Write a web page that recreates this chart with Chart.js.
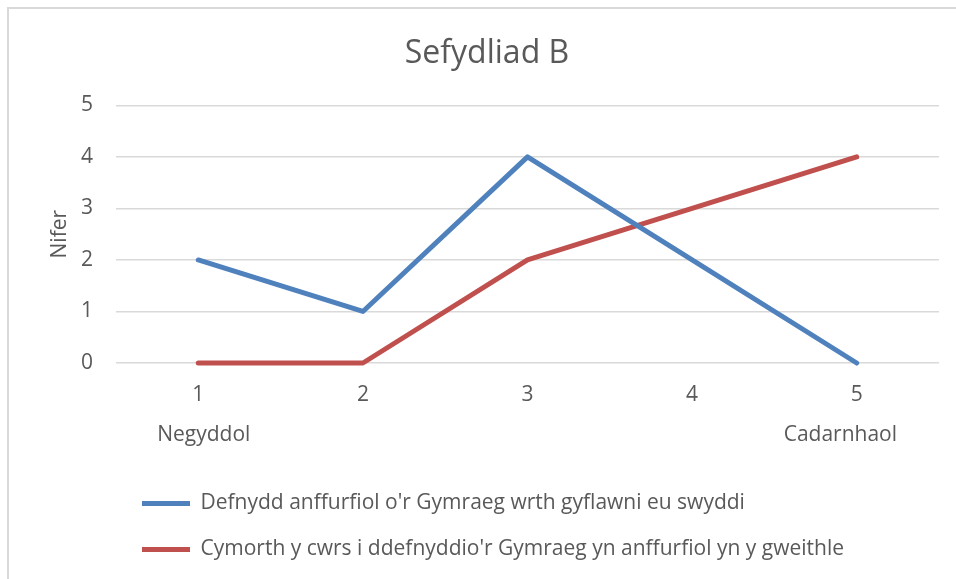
<!DOCTYPE html>
<html>
<head>
<meta charset="utf-8">
<script src="https://cdn.jsdelivr.net/npm/chart.js@4/dist/chart.umd.min.js"></script>
<style>
  html, body { margin: 0; padding: 0; background: #fff; overflow: hidden; }
  #wrap {
    position: absolute; left: 7px; top: 7px;
    width: 960px; height: 600px;
    border-left: 2px solid #d9d9d9; border-top: 2px solid #d9d9d9;
  }
</style>
</head>
<body>
<div id="wrap"><canvas id="myChart" width="960" height="561"></canvas></div>
<script>
const categories = ['1', '2', '3', '4', '5'];
const subLabels = ['  Negyddol', '', '', '', 'Cadarnhaol      '];
const yTicks = [0, 1, 2, 3, 4, 5];

const seriesNames = [
  "Defnydd anffurfiol o'r Gymraeg wrth gyflawni eu swyddi",
  "Cymorth y cwrs i ddefnyddio'r Gymraeg yn anffurfiol yn y gweithle"
];
const informalUse = [2, 1, 4, 2, 0];
const courseSupport = [0, 0, 2, 3, 4];

const blueColor = '#4f81bd';
const redColor = '#c0504d';
const textColor = '#595959';
const fontName = '"Open Sans", sans-serif';

// legend sits under the plot, lined up a bit in from the chart area's left edge
const legendShift = {
  id: 'legendShift',
  afterLayout(chart) {
    const pad = chart.options.plugins.legend.labels.padding;
    chart.legend.left = chart.chartArea.left + 26 - pad;
  }
};

const ctx = document.getElementById('myChart');

new Chart(ctx, {
  type: 'line',
  data: {
    labels: categories.map((c, i) => [c, subLabels[i]]),
    datasets: [{
      label: seriesNames[0],
      data: informalUse,
      borderColor: blueColor,
      backgroundColor: blueColor,
      borderWidth: 5,
      borderCapStyle: 'round',
      borderJoinStyle: 'round',
      pointRadius: 0,
      tension: 0,
      clip: false
    }, {
      label: seriesNames[1],
      data: courseSupport,
      borderColor: redColor,
      backgroundColor: redColor,
      borderWidth: 5,
      borderCapStyle: 'round',
      borderJoinStyle: 'round',
      pointRadius: 0,
      tension: 0,
      clip: false
    }]
  },
  options: {
    responsive: false,
    animation: false,
    layout: { padding: { left: 26, right: 30, bottom: 0 } },
    scales: {
      x: {
        offset: true,
        afterFit: axis => { axis.height = 105; },
        grid: { display: false },
        border: { display: false },
        ticks: {
          color: textColor,
          padding: 4,
          maxRotation: 0,
          font: { family: fontName, size: 21, lineHeight: 1.9 }
        }
      },
      y: {
        min: 0,
        max: 5,
        afterFit: axis => { axis.width = 81; },
        afterBuildTicks: axis => { axis.ticks = yTicks.map(v => ({ value: v })); },
        grid: { color: '#d9d9d9', lineWidth: 1.5, drawTicks: false },
        border: { display: false },
        ticks: {
          color: textColor,
          padding: 23,
          font: { family: fontName, size: 21 }
        },
        title: {
          display: true,
          text: 'Nifer',
          color: textColor,
          padding: { top: 12, bottom: 0 },
          font: { family: fontName, size: 21 }
        }
      }
    },
    plugins: {
      title: {
        display: true,
        text: 'Sefydliad B',
        color: textColor,
        padding: { top: 26, bottom: 32 },
        font: { family: fontName, size: 32, weight: 'normal' }
      },
      legend: {
        position: 'bottom',
        align: 'start',
        labels: {
          color: textColor,
          usePointStyle: true,
          pointStyle: 'line',
          pointStyleWidth: 48,
          padding: 25,
          font: { family: fontName, size: 21 }
        }
      },
      tooltip: { enabled: false }
    }
  },
  plugins: [legendShift]
});
</script>
</body>
</html>
